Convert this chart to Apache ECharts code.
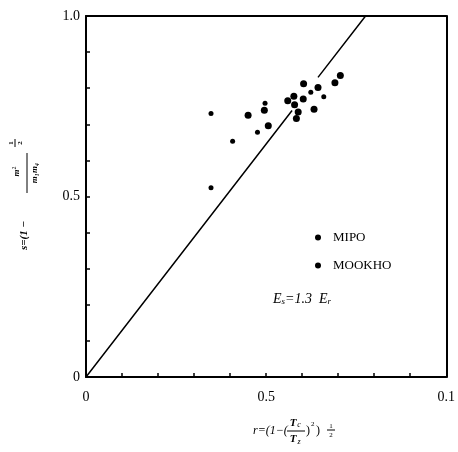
<!DOCTYPE html>
<html>
<head>
<meta charset="utf-8">
<script src="https://cdn.jsdelivr.net/npm/echarts@6/dist/echarts.min.js"></script>
<style>html,body{margin:0;padding:0;background:#fff}#c{width:458px;height:452px}</style>
</head>
<body>
<div id="c"></div>
<script>
// ---- data ----
var xTickValues = [0, 0.5, 1.0];
var xTickTexts = ['0', '0.5', '0.1'];
var yTickValues = [0, 0.5, 1.0];
var yTickTexts = ['0', '0.5', '1.0'];

// MIPO (large dots)
var mipoX = [0.450, 0.506, 0.560, 0.577, 0.579, 0.584, 0.589, 0.603, 0.604, 0.633, 0.644, 0.691, 0.706, 0.495];
var mipoY = [0.725, 0.696, 0.765, 0.778, 0.754, 0.716, 0.734, 0.770, 0.812, 0.742, 0.802, 0.815, 0.835, 0.739];
// MOOKHO (small dots)
var mookX = [0.347, 0.347, 0.407, 0.476, 0.497, 0.624, 0.660];
var mookY = [0.730, 0.524, 0.653, 0.678, 0.758, 0.789, 0.776];

// Es = 1.3 Er line (drawn with a gap near the points)
var lineX = [0, 0.572, null, 0.644, 0.776];
var lineY = [0, 0.738, null, 0.830, 1.0];

function pairs(xs, ys) {
  return xs.map(function (x, i) { return (x === null) ? ['-', '-'] : [x, ys[i]]; });
}
function lbl(vals, texts) {
  return function (v) {
    for (var i = 0; i < vals.length; i++) if (Math.abs(v - vals[i]) < 1e-6) return texts[i];
    return '';
  };
}

var serif = '"Liberation Serif", "DejaVu Serif", serif';
var chart = echarts.init(document.getElementById('c'));
chart.setOption({
  animation: false,
  backgroundColor: '#fff',
  grid: { left: 86, top: 16, right: 9, bottom: 75 },
  xAxis: [{
    type: 'value', min: 0, max: 1, interval: 0.1,
    axisLine: { lineStyle: { color: '#000', width: 2 } },
    axisTick: { inside: true, length: 4, lineStyle: { color: '#000', width: 1.5 } },
    axisLabel: { formatter: lbl(xTickValues, xTickTexts), color: '#000', fontFamily: serif, fontSize: 14, margin: 13 },
    splitLine: { show: false }
  }, {
    type: 'value', min: 0, max: 1, position: 'top',
    axisLine: { show: true, onZero: false, lineStyle: { color: '#000', width: 2 } },
    axisTick: { show: false }, axisLabel: { show: false }, splitLine: { show: false }
  }],
  yAxis: [{
    type: 'value', min: 0, max: 1, interval: 0.1,
    axisLine: { lineStyle: { color: '#000', width: 2 } },
    axisTick: { inside: true, length: 4, lineStyle: { color: '#000', width: 1.5 } },
    axisLabel: { formatter: lbl(yTickValues, yTickTexts), color: '#000', fontFamily: serif, fontSize: 14, margin: 6 },
    splitLine: { show: false }
  }, {
    type: 'value', min: 0, max: 1, position: 'right',
    axisLine: { show: true, onZero: false, lineStyle: { color: '#000', width: 2 } },
    axisTick: { show: false }, axisLabel: { show: false }, splitLine: { show: false }
  }],
  legend: {
    orient: 'vertical', left: 315, top: 231, itemGap: 15, padding: 0,
    itemWidth: 6, itemHeight: 6,
    textStyle: { color: '#000', fontFamily: serif, fontSize: 13, padding: [0, 0, 0, 7] },
    data: [{ name: 'MIPO', icon: 'circle' }, { name: 'MOOKHO', icon: 'circle' }]
  },
  series: [{
    name: 'Es=1.3Er', type: 'line', data: pairs(lineX, lineY), showSymbol: false,
    connectNulls: false, lineStyle: { color: '#000', width: 1.5 }, silent: true
  }, {
    name: 'MIPO', type: 'scatter', data: pairs(mipoX, mipoY), symbolSize: 7,
    itemStyle: { color: '#000', opacity: 1 }
  }, {
    name: 'MOOKHO', type: 'scatter', data: pairs(mookX, mookY), symbolSize: 5,
    itemStyle: { color: '#000', opacity: 1 }
  }],
  graphic: [
    // annotation Es = 1.3 Er
    { type: 'text', left: 273, top: 292, style: {
        text: '{e|E}{s|s}{n|=1.3  }{e|E}{s|r}',
        rich: {
          e: { font: 'italic 14px ' + serif, fill: '#000' },
          s: { font: 'italic 9px ' + serif, fill: '#000', padding: [6, 0, 0, 0] },
          n: { font: 'italic 14px ' + serif, fill: '#000' }
        }
    } },
    // x-axis title
    { type: 'group', x: 0, y: 0, children: [
      { type: 'text', style: { text: 'r=(1\u2212(', x: 253, y: 431, font: 'italic 12px ' + serif, fill: '#000', textVerticalAlign: 'middle' } },
      { type: 'text', style: { text: 'T', x: 293, y: 423, font: 'italic bold 11px ' + serif, fill: '#000', textAlign: 'center', textVerticalAlign: 'middle' } },
      { type: 'text', style: { text: 'c', x: 299, y: 425, font: 'italic 8px ' + serif, fill: '#000', textAlign: 'center', textVerticalAlign: 'middle' } },
      { type: 'line', shape: { x1: 287, y1: 431, x2: 305, y2: 431 }, style: { stroke: '#000', lineWidth: 1 } },
      { type: 'text', style: { text: 'T', x: 293, y: 439, font: 'italic bold 11px ' + serif, fill: '#000', textAlign: 'center', textVerticalAlign: 'middle' } },
      { type: 'text', style: { text: 'z', x: 299, y: 442, font: 'italic 8px ' + serif, fill: '#000', textAlign: 'center', textVerticalAlign: 'middle' } },
      { type: 'text', style: { text: ')', x: 306, y: 431, font: '12px ' + serif, fill: '#000', textVerticalAlign: 'middle' } },
      { type: 'text', style: { text: '2', x: 311, y: 424, font: '7px ' + serif, fill: '#000', textVerticalAlign: 'middle' } },
      { type: 'text', style: { text: ')', x: 316, y: 431, font: '12px ' + serif, fill: '#000', textVerticalAlign: 'middle' } },
      { type: 'text', style: { text: '1', x: 331, y: 426, font: '7px ' + serif, fill: '#000', textAlign: 'center', textVerticalAlign: 'middle' } },
      { type: 'line', shape: { x1: 327, y1: 430, x2: 335, y2: 430 }, style: { stroke: '#000', lineWidth: 1 } },
      { type: 'text', style: { text: '2', x: 331, y: 435, font: '7px ' + serif, fill: '#000', textAlign: 'center', textVerticalAlign: 'middle' } }
    ] },
    // y-axis title (rotated, reads bottom to top)
    { type: 'group', x: 24, y: 200, rotation: Math.PI / 2, children: [
      { type: 'text', style: { text: 's=(1 \u2212', x: -50, y: 0, font: 'italic bold 11px ' + serif, fill: '#000', textVerticalAlign: 'middle' } },
      { type: 'text', style: { text: 'm', x: 27, y: -7, font: 'italic bold 9px ' + serif, fill: '#000', textAlign: 'center', textVerticalAlign: 'middle' } },
      { type: 'text', style: { text: '2', x: 32, y: -10, font: '6px ' + serif, fill: '#000', textAlign: 'center', textVerticalAlign: 'middle' } },
      { type: 'line', shape: { x1: 7, y1: 3, x2: 47, y2: 3 }, style: { stroke: '#000', lineWidth: 1 } },
      { type: 'text', style: { text: 'm\u2081m\u2084', x: 27, y: 11, font: 'italic bold 9px ' + serif, fill: '#000', textAlign: 'center', textVerticalAlign: 'middle' } },
      { type: 'text', style: { text: '1', x: 57, y: -13, font: 'bold 7px ' + serif, fill: '#000', textAlign: 'center', textVerticalAlign: 'middle' } },
      { type: 'line', shape: { x1: 53, y1: -9, x2: 61, y2: -9 }, style: { stroke: '#000', lineWidth: 1 } },
      { type: 'text', style: { text: '2', x: 57, y: -4, font: 'bold 7px ' + serif, fill: '#000', textAlign: 'center', textVerticalAlign: 'middle' } }
    ] }
  ]
});
</script>
</body>
</html>
